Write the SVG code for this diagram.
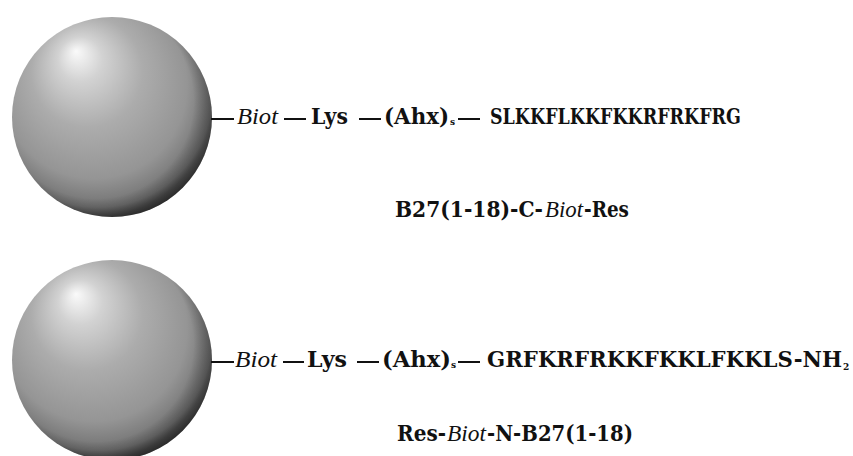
<svg xmlns="http://www.w3.org/2000/svg" width="853" height="456" viewBox="0 0 853 456">
  <style>
    .seq { font-family: "DejaVu Serif", "Liberation Serif", serif; font-size: 22px; font-weight: bold; fill: #111; }
    .it { font-family: "Liberation Serif", "DejaVu Serif", serif; font-size: 23px; font-style: italic; fill: #111; }
    .sub { font-family: "DejaVu Serif", "Liberation Serif", serif; font-size: 9px; font-weight: bold; fill: #111; }
    .bond { stroke: #111; stroke-width: 2; fill: none; }
  </style>
  <defs>
    <!-- shaded bead: soft highlight upper-left, darker rim lower-right -->
    <radialGradient id="beadShade" cx="0.44" cy="0.40" r="0.62" fx="0.32" fy="0.17">
      <stop offset="0" stop-color="#fafafa"/>
      <stop offset="0.18" stop-color="#d2d2d2"/>
      <stop offset="0.45" stop-color="#acacac"/>
      <stop offset="0.75" stop-color="#959595"/>
      <stop offset="0.92" stop-color="#727272"/>
      <stop offset="1" stop-color="#3a3a3a"/>
    </radialGradient>
    <radialGradient id="beadRim" cx="0.42" cy="0.42" r="0.58">
      <stop offset="0.84" stop-color="#000" stop-opacity="0"/>
      <stop offset="1" stop-color="#000" stop-opacity="0.3"/>
    </radialGradient>
  </defs>

  <rect width="853" height="456" fill="#fff"/>

  <!-- resin beads -->
  <g id="bead-top">
    <circle cx="112" cy="117" r="100" fill="url(#beadShade)"/>
    <circle cx="112" cy="117" r="100" fill="url(#beadRim)"/>
  </g>
  <g id="bead-bottom">
    <circle cx="112" cy="360" r="100" fill="url(#beadShade)"/>
    <circle cx="112" cy="360" r="100" fill="url(#beadRim)"/>
  </g>

  <!-- bonds between the building blocks -->
  <g id="connectors" class="bond">
    <line x1="211" y1="119" x2="234" y2="119"/>
    <line x1="284" y1="119" x2="306" y2="119"/>
    <line x1="359" y1="119" x2="381" y2="119"/>
    <line x1="458" y1="119" x2="480" y2="119"/>

    <line x1="211" y1="362" x2="234" y2="362"/>
    <line x1="283" y1="362" x2="304" y2="362"/>
    <line x1="357" y1="362" x2="379" y2="362"/>
    <line x1="458" y1="362" x2="480" y2="362"/>
  </g>

  <!-- bold runs are set slightly condensed (scale 0.88) and fitted with textLength -->

  <!-- C-terminal anchored construct -->
  <g id="biot-top"><text class="it" x="237" y="124" textLength="41" lengthAdjust="spacingAndGlyphs">Biot</text></g>
  <g id="lys-top"><text class="seq" transform="translate(311 124) scale(0.88 1)" textLength="42" lengthAdjust="spacingAndGlyphs">Lys</text></g>
  <g id="ahx-top">
    <text class="seq" transform="translate(384 124) scale(0.88 1)" textLength="73.9" lengthAdjust="spacingAndGlyphs">(Ahx)</text>
    <text class="sub" x="450" y="125">s</text>
  </g>
  <g id="peptide-top"><text class="seq" transform="translate(490 124) scale(0.88 1)" textLength="285.2" lengthAdjust="spacingAndGlyphs">SLKKFLKKFKKRFRKFRG</text></g>
  <g id="label-top">
    <text class="seq" transform="translate(395 217) scale(0.88 1)" textLength="168.2" lengthAdjust="spacingAndGlyphs">B27(1-18)-C-</text>
    <text class="it" x="545" y="217" textLength="38" lengthAdjust="spacingAndGlyphs">Biot</text>
    <text class="seq" transform="translate(584 217) scale(0.88 1)" textLength="51.1" lengthAdjust="spacingAndGlyphs">-Res</text>
  </g>

  <!-- N-terminal anchored construct -->
  <g id="biot-bottom"><text class="it" x="235" y="367" textLength="42" lengthAdjust="spacingAndGlyphs">Biot</text></g>
  <g id="lys-bottom"><text class="seq" transform="translate(307 367) scale(0.88 1)" textLength="45.5" lengthAdjust="spacingAndGlyphs">Lys</text></g>
  <g id="ahx-bottom">
    <text class="seq" transform="translate(382 367) scale(0.88 1)" textLength="78.4" lengthAdjust="spacingAndGlyphs">(Ahx)</text>
    <text class="sub" x="451" y="368">s</text>
  </g>
  <g id="peptide-bottom">
    <text class="seq" transform="translate(487 367) scale(0.88 1)" textLength="403.4" lengthAdjust="spacingAndGlyphs">GRFKRFRKKFKKLFKKLS-NH</text>
    <text class="sub" x="843" y="370">2</text>
  </g>
  <g id="label-bottom">
    <text class="seq" transform="translate(397 441) scale(0.88 1)" textLength="55.7" lengthAdjust="spacingAndGlyphs">Res-</text>
    <text class="it" x="447" y="441" textLength="39" lengthAdjust="spacingAndGlyphs">Biot</text>
    <text class="seq" transform="translate(487 441) scale(0.88 1)" textLength="165.9" lengthAdjust="spacingAndGlyphs">-N-B27(1-18)</text>
  </g>
</svg>
